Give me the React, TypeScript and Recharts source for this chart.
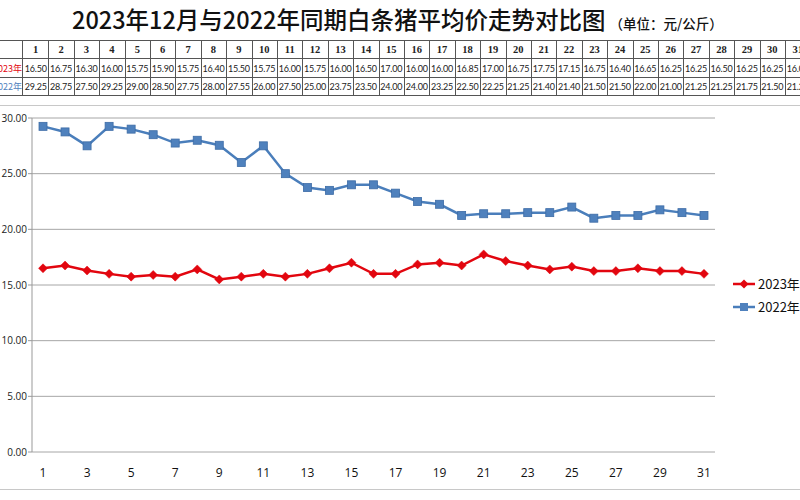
import React from "react";
import { CartesianGrid, Legend, Line, LineChart, XAxis, YAxis } from "recharts";

const DAYS = [1, 2, 3, 4, 5, 6, 7, 8, 9, 10, 11, 12, 13, 14, 15, 16, 17, 18, 19, 20, 21, 22, 23, 24, 25, 26, 27, 28, 29, 30, 31];
const PRICE_2023 = [16.5, 16.75, 16.3, 16.0, 15.75, 15.9, 15.75, 16.4, 15.5, 15.75, 16.0, 15.75, 16.0, 16.5, 17.0, 16.0, 16.0, 16.85, 17.0, 16.75, 17.75, 17.15, 16.75, 16.4, 16.65, 16.25, 16.25, 16.5, 16.25, 16.25, 16.0];
const PRICE_2022 = [29.25, 28.75, 27.5, 29.25, 29.0, 28.5, 27.75, 28.0, 27.55, 26.0, 27.5, 25.0, 23.75, 23.5, 24.0, 24.0, 23.25, 22.5, 22.25, 21.25, 21.4, 21.4, 21.5, 21.5, 22.0, 21.0, 21.25, 21.25, 21.75, 21.5, 21.25];
const Y_TICKS = [0, 5, 10, 15, 20, 25, 30];
const X_LABELS = [1, 3, 5, 7, 9, 11, 13, 15, 17, 19, 21, 23, 25, 27, 29, 31];
const X_BOUNDS = [0.5, 1.5, 2.5, 3.5, 4.5, 5.5, 6.5, 7.5, 8.5, 9.5, 10.5, 11.5, 12.5, 13.5, 14.5, 15.5, 16.5, 17.5, 18.5, 19.5, 20.5, 21.5, 22.5, 23.5, 24.5, 25.5, 26.5, 27.5, 28.5, 29.5, 30.5, 31.5];
const SERIES_ORDER = ["y2023", "y2022"];

const RED = "#e2060f";
const BLUE = "#4a7ebb";

const chartData = DAYS.map((d, i) => ({ day: d, y2023: PRICE_2023[i], y2022: PRICE_2022[i] }));

const Diamond = (props: any) => {
  const { cx, cy, key } = props;
  if (cx == null || cy == null) return null;
  return <path key={key} d={`M${cx},${cy - 4.5}L${cx + 4.5},${cy}L${cx},${cy + 4.5}L${cx - 4.5},${cy}Z`} fill={RED} stroke={RED} strokeWidth={0.5} />;
};

const Square = (props: any) => {
  const { cx, cy, key } = props;
  if (cx == null || cy == null) return null;
  return <rect key={key} x={cx - 4} y={cy - 4} width={8} height={8} fill="#4f81bd" stroke="#3d6ca6" strokeWidth={0.8} />;
};

const LegendBox = ({ payload }: any) => {
  const items = [...(payload || [])].sort(
    (a: any, b: any) => SERIES_ORDER.indexOf(a.dataKey) - SERIES_ORDER.indexOf(b.dataKey)
  );
  return (
    <div style={{ fontFamily: "'Noto Sans CJK SC', sans-serif", fontSize: 13, color: "#111" }}>
      {items.map((p: any) => (
        <div key={p.value} style={{ display: "flex", alignItems: "center", height: 23 }}>
          <svg width={22} height={12} style={{ marginRight: 3 }}>
            <line x1={0} y1={6} x2={22} y2={6} stroke={p.color} strokeWidth={2.5} />
            {p.dataKey === "y2023" ? (
              <path d="M11,1.5L15.5,6L11,10.5L6.5,6Z" fill={RED} />
            ) : (
              <rect x={7} y={2} width={8} height={8} fill="#4f81bd" />
            )}
          </svg>
          <span>{p.value}</span>
        </div>
      ))}
    </div>
  );
};

const COL0 = 23;
const COLW = 25.4;
const ROWS = [40, 58, 77, 96];

function DataTable() {
  const cells: React.ReactNode[] = [];
  const border = "1px solid #555";
  const rowLabels = [
    { text: "", color: "#000" },
    { text: "2023年", color: RED },
    { text: "2022年", color: "#4f81bd" },
  ];
  for (let r = 0; r < 3; r++) {
    const top = ROWS[r];
    const h = ROWS[r + 1] - ROWS[r];
    cells.push(
      <div
        key={`l${r}`}
        style={{
          position: "absolute", left: 0, top, width: COL0, height: h, boxSizing: "border-box",
          borderTop: border, borderBottom: r === 2 ? border : undefined, borderRight: border,
          overflow: "hidden", display: "flex", alignItems: "center", justifyContent: "flex-end",
          fontFamily: "'Noto Sans CJK SC', sans-serif", fontSize: 9, color: rowLabels[r].color, whiteSpace: "nowrap",
        }}
      >
        {rowLabels[r].text}
      </div>
    );
    DAYS.forEach((d, i) => {
      const txt = r === 0 ? String(d) : (r === 1 ? PRICE_2023[i] : PRICE_2022[i]).toFixed(2);
      cells.push(
        <div
          key={`c${r}-${i}`}
          style={{
            position: "absolute", left: COL0 + i * COLW, top, width: COLW + 1, height: h, boxSizing: "border-box",
            borderTop: border, borderBottom: r === 2 ? border : undefined, borderRight: border,
            overflow: "hidden", display: "flex", alignItems: "center", justifyContent: "center", whiteSpace: "nowrap",
            fontFamily: r === 0 ? "'Liberation Serif', serif" : "Lato, sans-serif",
            fontWeight: r === 0 ? 700 : 400, fontSize: r === 0 ? 10.5 : 9, color: "#222", letterSpacing: r === 0 ? 0 : -0.2,
          }}
        >
          {txt}
        </div>
      );
    });
  }
  return <>{cells}</>;
}

export default function App() {
  return (
    <div style={{ position: "absolute", left: 0, top: 0, width: 800, height: 500, background: "#fff", overflow: "hidden" }}>
      <div
        style={{
          position: "absolute", left: 72, top: 2, whiteSpace: "nowrap",
          fontFamily: "'Noto Sans CJK SC', sans-serif", color: "#111",
        }}
      >
        <span style={{ fontSize: 23.5, fontWeight: 500 }}>2023年12月与2022年同期白条猪平均价走势对比图</span>
        <span style={{ fontSize: 13.5, fontWeight: 500, marginLeft: 4 }}>（单位：元/公斤）</span>
      </div>
      <DataTable />
      <div style={{ position: "absolute", left: 0, top: 105, width: 800, height: 385, boxSizing: "border-box", borderTop: "1.5px solid #c8c8c8", borderBottom: "1.5px solid #c8c8c8" }} />
      <div style={{ position: "absolute", left: 0, top: 100 }}>
        <LineChart width={800} height={400} data={chartData} margin={{ top: 18, right: 85, bottom: 18, left: 0 }}>
          <CartesianGrid horizontal vertical={false} stroke="#a6a6a6" strokeWidth={1} />
          <XAxis
            xAxisId="bounds"
            dataKey="day"
            type="number"
            domain={[0.5, 31.5]}
            ticks={X_BOUNDS}
            interval={0}
            tick={false}
            tickSize={5}
            height={0}
            axisLine={{ stroke: "#999" }}
            tickLine={{ stroke: "#999" }}
          />
          <XAxis
            dataKey="day"
            type="number"
            domain={[0.5, 31.5]}
            ticks={X_LABELS}
            interval={0}
            height={30}
            axisLine={false}
            tickLine={false}
            tickMargin={10}
            tick={{ fill: "#111", fontSize: 12, fontFamily: "'Open Sans', sans-serif" }}
          />
          <YAxis
            domain={[0, 30]}
            ticks={Y_TICKS}
            width={32}
            interval={0}
            tickSize={4}
            tickMargin={1}
            tickFormatter={(v: number) => v.toFixed(2)}
            axisLine={{ stroke: "#999" }}
            tickLine={{ stroke: "#999" }}
            tick={{ fill: "#222", fontSize: 10, fontFamily: "'Open Sans', sans-serif" }}
          />
          <Legend
            layout="vertical"
            align="center"
            verticalAlign="middle"
            content={<LegendBox />}
            wrapperStyle={{ left: 733, top: 172, width: 70 }}
          />
          <Line dataKey="y2023" name="2023年" stroke={RED} strokeWidth={2.5} dot={Diamond} activeDot={false} isAnimationActive={false} />
          <Line dataKey="y2022" name="2022年" stroke={BLUE} strokeWidth={2.5} dot={Square} activeDot={false} isAnimationActive={false} />
        </LineChart>
      </div>
    </div>
  );
}
